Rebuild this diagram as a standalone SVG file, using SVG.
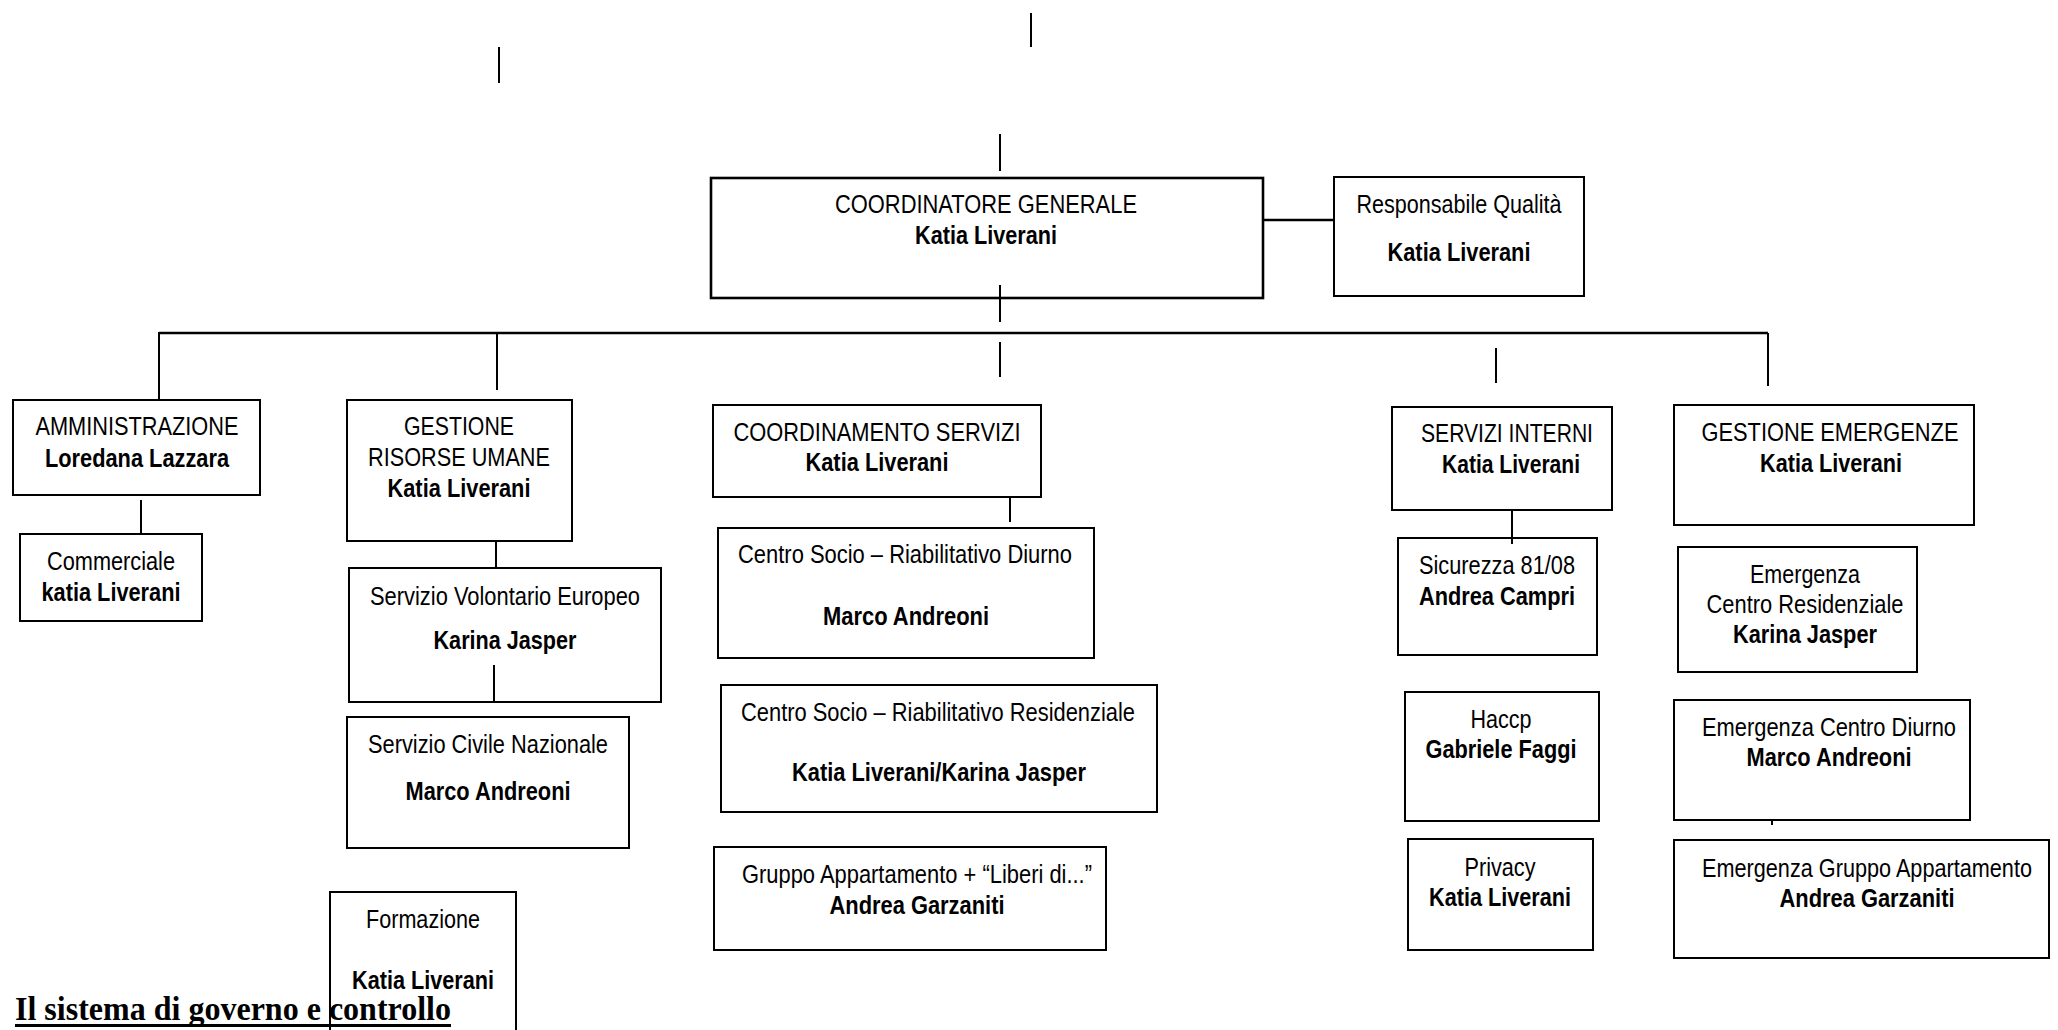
<svg xmlns="http://www.w3.org/2000/svg" width="2058" height="1030" viewBox="0 0 2058 1030">
<style>
.box{fill:#fff;stroke:#000;stroke-width:2}
.main{stroke-width:2.6}
.ln{stroke:#000;stroke-width:2;fill:none}
.t{font-family:"Liberation Sans",Arial,sans-serif;font-size:25px;text-anchor:middle;fill:#000}
.b{font-weight:bold}
.title{font-family:"Liberation Serif","Times New Roman",serif;font-size:34px;font-weight:bold;fill:#000}
</style>
<rect width="2058" height="1030" fill="#fff"/>
<g id="connectors">
<line class="ln" x1="1031" y1="13" x2="1031" y2="47"/>
<line class="ln" x1="499" y1="47" x2="499" y2="83"/>
<line class="ln" x1="1000" y1="134" x2="1000" y2="171"/>
<line class="ln" x1="1263" y1="220" x2="1335" y2="220" style="stroke-width:2.5"/>
<line class="ln" x1="159" y1="333" x2="1768" y2="333" style="stroke-width:2.6"/>
<line class="ln" x1="159" y1="332" x2="159" y2="403"/>
<line class="ln" x1="497" y1="333" x2="497" y2="390"/>
<line class="ln" x1="1000" y1="342" x2="1000" y2="377"/>
<line class="ln" x1="1496" y1="348" x2="1496" y2="383"/>
<line class="ln" x1="1768" y1="333" x2="1768" y2="386"/>
<line class="ln" x1="141" y1="500" x2="141" y2="534"/>
<line class="ln" x1="496" y1="541" x2="496" y2="568"/>
<line class="ln" x1="1010" y1="497" x2="1010" y2="522"/>
<line class="ln" x1="1512" y1="510" x2="1512" y2="544"/>
<line class="ln" x1="1772" y1="820" x2="1772" y2="825"/>
</g>
<g id="coordinatore">
<rect class="box main" x="711" y="178" width="552" height="120"/>
<text class="t" x="986" y="213" textLength="302" lengthAdjust="spacingAndGlyphs">COORDINATORE GENERALE</text>
<text class="t b" x="986" y="244" textLength="142" lengthAdjust="spacingAndGlyphs">Katia Liverani</text>
</g>
<line class="ln" x1="1000" y1="285" x2="1000" y2="322"/>
<g id="qualita">
<rect class="box" x="1334" y="177" width="250" height="119"/>
<text class="t" x="1459" y="213" textLength="205" lengthAdjust="spacingAndGlyphs">Responsabile Qualità</text>
<text class="t b" x="1459" y="261" textLength="143" lengthAdjust="spacingAndGlyphs">Katia Liverani</text>
</g>
<g id="amministrazione">
<rect class="box" x="13" y="400" width="247" height="95"/>
<text class="t" x="137" y="435" textLength="203" lengthAdjust="spacingAndGlyphs">AMMINISTRAZIONE</text>
<text class="t b" x="137" y="467" textLength="184" lengthAdjust="spacingAndGlyphs">Loredana Lazzara</text>
</g>
<g id="commerciale">
<rect class="box" x="20" y="534" width="182" height="87"/>
<text class="t" x="111" y="570" textLength="128" lengthAdjust="spacingAndGlyphs">Commerciale</text>
<text class="t b" x="111" y="601" textLength="139" lengthAdjust="spacingAndGlyphs">katia Liverani</text>
</g>
<g id="risorse-umane">
<rect class="box" x="347" y="400" width="225" height="141"/>
<text class="t" x="459" y="435" textLength="110" lengthAdjust="spacingAndGlyphs">GESTIONE</text>
<text class="t" x="459" y="466" textLength="182" lengthAdjust="spacingAndGlyphs">RISORSE UMANE</text>
<text class="t b" x="459" y="497" textLength="143" lengthAdjust="spacingAndGlyphs">Katia Liverani</text>
</g>
<g id="volontario">
<rect class="box" x="349" y="568" width="312" height="134"/>
<text class="t" x="505" y="605" textLength="270" lengthAdjust="spacingAndGlyphs">Servizio Volontario Europeo</text>
<text class="t b" x="505" y="649" textLength="143" lengthAdjust="spacingAndGlyphs">Karina Jasper</text>
<line class="ln" x1="494" y1="665" x2="494" y2="702"/>
</g>
<g id="civile">
<rect class="box" x="347" y="717" width="282" height="131"/>
<text class="t" x="488" y="753" textLength="240" lengthAdjust="spacingAndGlyphs">Servizio Civile Nazionale</text>
<text class="t b" x="488" y="800" textLength="165" lengthAdjust="spacingAndGlyphs">Marco Andreoni</text>
</g>
<g id="formazione">
<rect class="box" x="330" y="892" width="186" height="160"/>
<text class="t" x="423" y="928" textLength="114" lengthAdjust="spacingAndGlyphs">Formazione</text>
<text class="t b" x="423" y="989" textLength="142" lengthAdjust="spacingAndGlyphs">Katia Liverani</text>
</g>
<g id="coordinamento">
<rect class="box" x="713" y="405" width="328" height="92"/>
<text class="t" x="877" y="441" textLength="287" lengthAdjust="spacingAndGlyphs">COORDINAMENTO SERVIZI</text>
<text class="t b" x="877" y="471" textLength="143" lengthAdjust="spacingAndGlyphs">Katia Liverani</text>
</g>
<g id="csr-diurno">
<rect class="box" x="718" y="528" width="376" height="130"/>
<text class="t" x="905" y="563" textLength="334" lengthAdjust="spacingAndGlyphs">Centro Socio – Riabilitativo Diurno</text>
<text class="t b" x="906" y="625" textLength="166" lengthAdjust="spacingAndGlyphs">Marco Andreoni</text>
</g>
<g id="csr-residenziale">
<rect class="box" x="721" y="685" width="436" height="127"/>
<text class="t" x="938" y="721" textLength="394" lengthAdjust="spacingAndGlyphs">Centro Socio – Riabilitativo Residenziale</text>
<text class="t b" x="939" y="781" textLength="294" lengthAdjust="spacingAndGlyphs">Katia Liverani/Karina Jasper</text>
</g>
<g id="gruppo-appartamento">
<rect class="box" x="714" y="847" width="392" height="103"/>
<text class="t" x="917" y="883" textLength="350" lengthAdjust="spacingAndGlyphs">Gruppo Appartamento + “Liberi di...”</text>
<text class="t b" x="917" y="914" textLength="175" lengthAdjust="spacingAndGlyphs">Andrea Garzaniti</text>
</g>
<g id="servizi-interni">
<rect class="box" x="1392" y="407" width="220" height="103"/>
<text class="t" x="1507" y="442" textLength="172" lengthAdjust="spacingAndGlyphs">SERVIZI INTERNI</text>
<text class="t b" x="1511" y="473" textLength="138" lengthAdjust="spacingAndGlyphs">Katia Liverani</text>
</g>
<g id="sicurezza">
<rect class="box" x="1398" y="538" width="199" height="117"/>
<line class="ln" x1="1512" y1="538" x2="1512" y2="544"/>
<text class="t" x="1497" y="574" textLength="156" lengthAdjust="spacingAndGlyphs">Sicurezza 81/08</text>
<text class="t b" x="1497" y="605" textLength="156" lengthAdjust="spacingAndGlyphs">Andrea Campri</text>
</g>
<g id="haccp">
<rect class="box" x="1405" y="692" width="194" height="129"/>
<text class="t" x="1501" y="728" textLength="61" lengthAdjust="spacingAndGlyphs">Haccp</text>
<text class="t b" x="1501" y="758" textLength="151" lengthAdjust="spacingAndGlyphs">Gabriele Faggi</text>
</g>
<g id="privacy">
<rect class="box" x="1408" y="839" width="185" height="111"/>
<text class="t" x="1500" y="876" textLength="71" lengthAdjust="spacingAndGlyphs">Privacy</text>
<text class="t b" x="1500" y="906" textLength="142" lengthAdjust="spacingAndGlyphs">Katia Liverani</text>
</g>
<g id="gestione-emergenze">
<rect class="box" x="1674" y="405" width="300" height="120"/>
<text class="t" x="1830" y="441" textLength="257" lengthAdjust="spacingAndGlyphs">GESTIONE EMERGENZE</text>
<text class="t b" x="1831" y="472" textLength="142" lengthAdjust="spacingAndGlyphs">Katia Liverani</text>
</g>
<g id="emergenza-residenziale">
<rect class="box" x="1678" y="547" width="239" height="125"/>
<text class="t" x="1805" y="583" textLength="110" lengthAdjust="spacingAndGlyphs">Emergenza</text>
<text class="t" x="1805" y="613" textLength="197" lengthAdjust="spacingAndGlyphs">Centro Residenziale</text>
<text class="t b" x="1805" y="643" textLength="144" lengthAdjust="spacingAndGlyphs">Karina Jasper</text>
</g>
<g id="emergenza-diurno">
<rect class="box" x="1674" y="700" width="296" height="120"/>
<text class="t" x="1829" y="736" textLength="254" lengthAdjust="spacingAndGlyphs">Emergenza Centro Diurno</text>
<text class="t b" x="1829" y="766" textLength="165" lengthAdjust="spacingAndGlyphs">Marco Andreoni</text>
</g>
<g id="emergenza-appartamento">
<rect class="box" x="1674" y="840" width="375" height="118"/>
<text class="t" x="1867" y="877" textLength="330" lengthAdjust="spacingAndGlyphs">Emergenza Gruppo Appartamento</text>
<text class="t b" x="1867" y="907" textLength="175" lengthAdjust="spacingAndGlyphs">Andrea Garzaniti</text>
</g>
<g id="titolo">
<text class="title" x="15" y="1020" textLength="436" lengthAdjust="spacingAndGlyphs">Il sistema di governo e controllo</text>
<line x1="15" y1="1025.5" x2="451" y2="1025.5" stroke="#000" stroke-width="3"/>
</g>
</svg>
